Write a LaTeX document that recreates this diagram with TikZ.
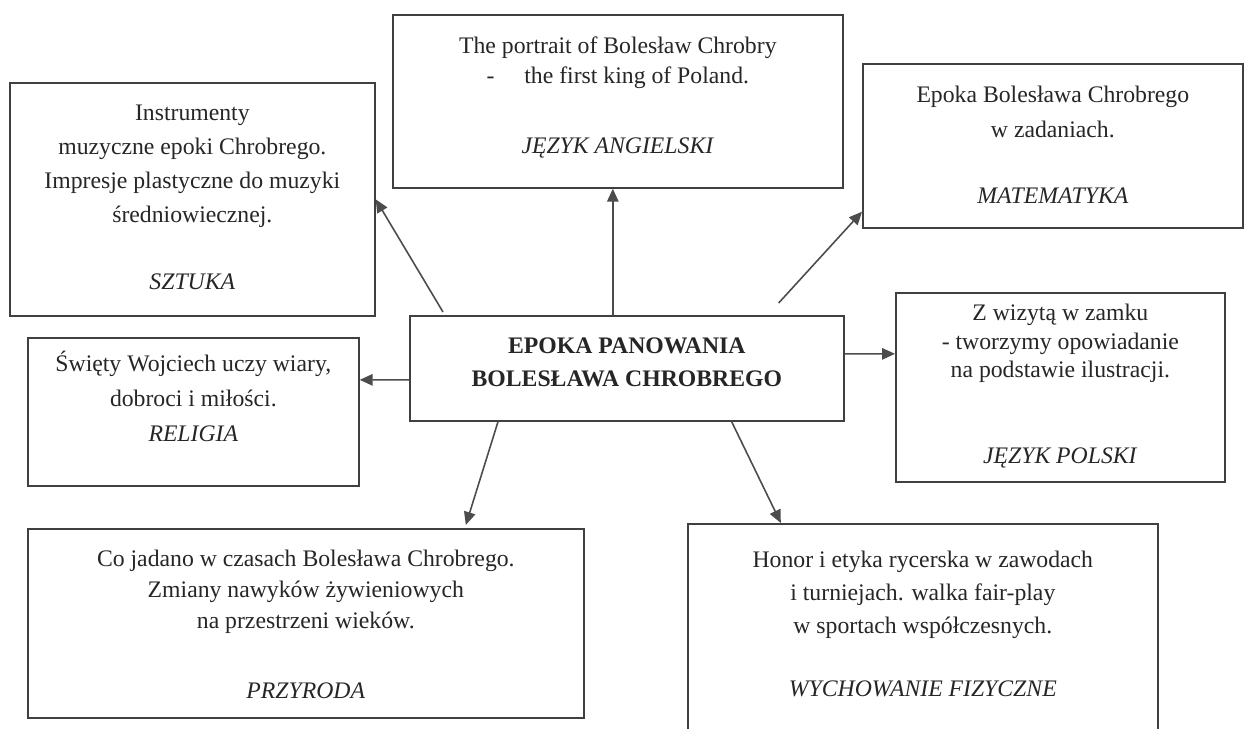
\documentclass[tikz,border=0pt]{standalone}
\usepackage{fontspec}
\setmainfont{Liberation Serif}
\usetikzlibrary{positioning}
\usetikzlibrary{calc}
\usetikzlibrary{arrows.meta}

\begin{document}
\begin{tikzpicture}[x=.02cm, y=-.02cm, font=\fontsize{13.5}{19.3}\selectfont,
  subject/.style={draw=black!75, line width=1pt, anchor=north west, inner sep=0pt},
  txt/.style={align=center, inner sep=0pt, text=black!85},
  arr/.style={draw=black!70, line width=.9pt, -{Triangle[length=2.6mm,width=2.3mm]}}]

  \useasboundingbox (0,0) rectangle (1245,729);
  \fill[white] (0,0) rectangle (1245,729);
  \clip (0,0) rectangle (1245,729);

    %----------------------------------------------------------
    % Boxes
    %----------------------------------------------------------
   \node[subject, minimum width=9cm, minimum height=3.46cm] (angielski) at (392,14) {};
   \node[subject, minimum width=7.3cm, minimum height=4.66cm] (sztuka) at (9,82) {};
   \node[subject, minimum width=7.6cm, minimum height=3.28cm] (matematyka) at (862,63) {};
   \node[subject, minimum width=8.68cm, minimum height=2.1cm] (centre) at (409,315) {};
   \node[subject, minimum width=6.62cm, minimum height=2.96cm] (religia) at (27,337) {};
   \node[subject, minimum width=6.58cm, minimum height=3.78cm] (polski) at (895,292) {};
   \node[subject, minimum width=11.12cm, minimum height=3.78cm] (przyroda) at (27,528) {};
   \node[subject, minimum width=9.4cm, minimum height=4.6cm] (fizyczne) at (687,523) {};

    %----------------------------------------------------------
    % Texts
    %----------------------------------------------------------
   \node[txt, below=.44cm of angielski.north, font=\fontsize{13.5}{17.6}\selectfont] (angielski-t)
     {The portrait of Bolesław Chrobry\\-\hspace{17pt}the first king of Poland.\\[21.7pt]\textit{JĘZYK ANGIELSKI}};
   \node[txt, below=.46cm of sztuka.north] (sztuka-t)
     {Instrumenty\\muzyczne epoki Chrobrego.\\Impresje plastyczne do muzyki\\średniowiecznej.\\[18.8pt]\textit{SZTUKA}};
   \node[txt, below=.46cm of matematyka.north, font=\fontsize{13.5}{19.9}\selectfont] (matematyka-t)
     {Epoka Bolesława Chrobrego\\w zadaniach.\\[17.7pt]\textit{MATEMATYKA}};
   \node[txt, below=.44cm of centre.north, font=\fontsize{13.5}{19.3}\selectfont\bfseries] (centre-t)
     {EPOKA PANOWANIA\\BOLESŁAWA CHROBREGO};
   \node[txt, below=.28cm of religia.north, font=\fontsize{13.5}{20}\selectfont] (religia-t)
     {Święty Wojciech uczy wiary,\\dobroci i miłości.\\\textit{RELIGIA}};
   \node[txt, below=.24cm of polski.north, font=\fontsize{13.5}{16.2}\selectfont] (polski-t)
     {Z wizytą w zamku\\- tworzymy opowiadanie\\na podstawie ilustracji.\\[32.8pt]\textit{JĘZYK POLSKI}};
   \node[txt, below=.44cm of przyroda.north, font=\fontsize{13.5}{17.6}\selectfont] (przyroda-t)
     {Co jadano w czasach Bolesława Chrobrego.\\Zmiany nawyków żywieniowych\\na przestrzeni wieków.\\[22.2pt]\textit{PRZYRODA}};
   \node[txt, below=.56cm of fizyczne.north, font=\fontsize{13.5}{18.8}\selectfont] (fizyczne-t)
     {Honor i etyka rycerska w zawodach\\i turniejach. walka fair-play\\w sportach współczesnych.\\[17pt]\textit{WYCHOWANIE FIZYCZNE}};

    %----------------------------------------------------------
    % Arrows from the centre
    %----------------------------------------------------------
   \draw[arr] ($(angielski.south |- centre.north)+(-5,0)$) -- ($(angielski.south)+(-5,0)$);
   \draw[arr] ($(centre.north west)+(34,-3)$) -- (sztuka.east);
   \draw[arr] ($(centre.north east)+(-66,-12)$) -- ($(matematyka.south west)+(0,-17)$);
   \draw[arr] ($(centre.west)+(0,11.5)$) -- ($(religia.east)+(0,-32)$);
   \draw[arr] ($(centre.east)+(0,-14.5)$) -- ($(polski.west)+(0,-33.5)$);
   \draw[arr] ($(centre.south west)+(89,0)$) -- ($(przyroda.north)+(160,-3)$);
   \draw[arr] ($(centre.south east)+(-113,0)$) -- ($(fizyczne.north)+(-142,0)$);
\end{tikzpicture}
\end{document}
